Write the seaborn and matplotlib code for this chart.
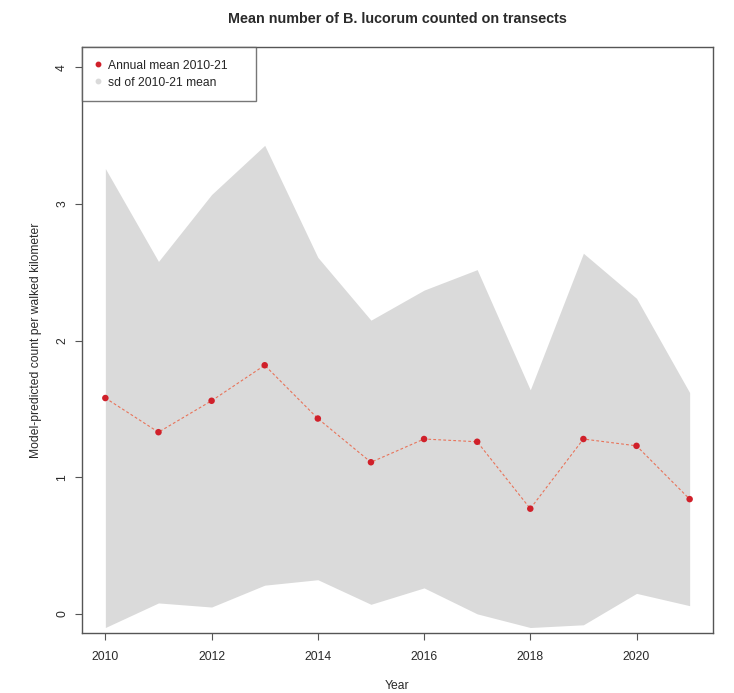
import matplotlib
matplotlib.use("Agg")
import matplotlib.pyplot as plt
from matplotlib.lines import Line2D
import numpy as np
import pandas as pd
import seaborn as sns

# Annual mean counts of B. lucorum per walked kilometre and their standard deviation
years = [2010, 2011, 2012, 2013, 2014, 2015, 2016, 2017, 2018, 2019, 2020, 2021]
annual_mean = [1.58, 1.33, 1.56, 1.82, 1.43, 1.11, 1.28, 1.26, 0.77, 1.28, 1.23, 0.84]
annual_sd = [1.68, 1.25, 1.51, 1.61, 1.18, 1.04, 1.09, 1.26, 0.87, 1.36, 1.08, 0.78]
x_ticks = [2010, 2012, 2014, 2016, 2018, 2020]
y_ticks = [0, 1, 2, 3, 4]

df = pd.DataFrame({"year": years, "mean": annual_mean, "sd": annual_sd})
df["lower"] = df["mean"] - df["sd"]
df["upper"] = df["mean"] + df["sd"]

sns.set_style("ticks")
plt.rcParams["font.family"] = ["Liberation Sans", "DejaVu Sans"]

fig = plt.figure(figsize=(7.34, 6.93), dpi=100)
ax = fig.add_axes([0.1117, 0.0866, 0.8597, 0.8456])

band_color = "#dadada"
point_color = "#d0202a"
line_color = "#e8735a"
text_color = "#2a2a2a"
frame_color = "#555555"
fs = 8.7

ax.fill_between(df["year"], df["lower"], df["upper"], color=band_color, linewidth=0, zorder=1)
sns.lineplot(data=df, x="year", y="mean", ax=ax, color=line_color, linewidth=0.8,
             linestyle=(0, (2.5, 2)), zorder=2)
sns.scatterplot(data=df, x="year", y="mean", ax=ax, color=point_color, s=22,
                edgecolor="none", zorder=3)

ax.set_xlim(2009.56, 2021.44)
ax.set_ylim(-0.14, 4.15)
ax.set_xticks(x_ticks)
ax.set_yticks(y_ticks)
ax.set_yticklabels([str(v) for v in y_ticks], rotation=90, va="center")
ax.tick_params(axis="both", direction="out", length=5, width=0.8, color=frame_color,
               labelsize=fs, labelcolor=text_color)
ax.tick_params(axis="x", pad=8)
ax.tick_params(axis="y", pad=5)

for side in ["left", "right", "top", "bottom"]:
    ax.spines[side].set_visible(True)
    ax.spines[side].set_color(frame_color)
    ax.spines[side].set_linewidth(1.0)

ax.set_xlabel("Year", fontsize=fs, color=text_color, labelpad=12)
ax.set_ylabel("Model-predicted count per walked kilometer", fontsize=fs, color=text_color,
              labelpad=10)
ax.set_title("Mean number of B. lucorum counted on transects", fontsize=10.4, fontweight="bold",
             color=text_color, pad=17)

handles = [
    Line2D([], [], marker="o", linestyle="none", color=point_color, markersize=3.2),
    Line2D([], [], marker="o", linestyle="none", color=band_color, markersize=3.2),
]
leg = ax.legend(handles, ["Annual mean 2010-21", "sd of 2010-21 mean"], loc="upper left",
                bbox_to_anchor=(0, 0, 0.2758, 1), mode="expand",
                borderaxespad=0, fontsize=fs, frameon=True, fancybox=False,
                handletextpad=0.6, borderpad=1.05, labelspacing=0.4, handlelength=0.5)
leg.get_frame().set_edgecolor(frame_color)
leg.get_frame().set_linewidth(1.0)

fig.savefig("out.png", dpi=100, facecolor="white")
